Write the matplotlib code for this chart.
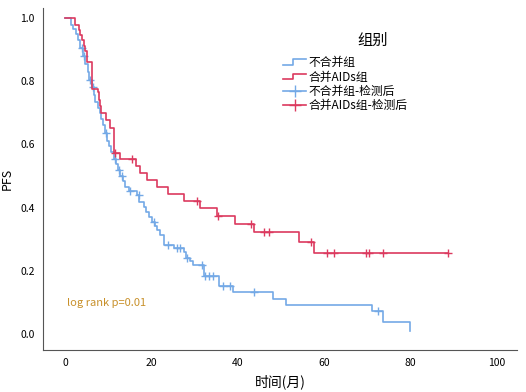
import numpy as np
import matplotlib.pyplot as plt
from matplotlib.lines import Line2D
from matplotlib.legend_handler import HandlerBase

plt.rcParams['font.family'] = ['Noto Sans CJK SC', 'DejaVu Sans']

# 不合并组: event times (months) and survival after each event
blue_t = [1.4, 1.9, 2.5, 3.0, 3.5, 4.1, 4.7, 5.2, 5.6, 6.1, 6.6, 7.0, 7.5, 8.0,
          8.4, 8.8, 9.2, 9.7, 10.2, 10.7, 11.2, 11.8, 12.3, 12.8, 13.3, 13.8,
          14.8, 16.6, 17.2, 18.2, 18.8, 19.3, 20.0, 20.7, 21.2, 22.0, 22.8,
          25.3, 27.4, 28.0, 28.8, 29.7, 32.2, 35.7, 38.8, 48.2, 51.2, 71.1,
          73.5, 79.9]
blue_s = [0.978, 0.964, 0.95, 0.93, 0.905, 0.88, 0.855, 0.83, 0.805, 0.78,
          0.755, 0.735, 0.715, 0.698, 0.68, 0.66, 0.635, 0.612, 0.595, 0.575,
          0.555, 0.538, 0.52, 0.5, 0.485, 0.466, 0.452, 0.44, 0.419, 0.403,
          0.387, 0.371, 0.355, 0.343, 0.329, 0.313, 0.283, 0.271, 0.258, 0.24,
          0.23, 0.217, 0.182, 0.152, 0.134, 0.112, 0.091, 0.074, 0.039, 0.01]
blue_cens = [3.8, 4.4, 5.8, 6.4, 9.4, 11.6, 12.5, 13.1, 14.9, 17.0, 20.5, 23.9,
             25.9, 26.6, 28.2, 31.6, 32.4, 33.3, 34.3, 36.5, 38.2, 43.7, 72.4]

# 合并AIDs组
red_t = [2.3, 3.1, 3.5, 3.9, 4.3, 4.6, 5.0, 6.3, 7.6, 7.9, 8.1, 8.3, 9.4,
         10.4, 11.2, 12.7, 16.4, 17.4, 18.9, 21.3, 23.7, 27.5, 31.3, 35.1,
         39.4, 43.6, 54.2, 57.5]
red_s = [0.978, 0.962, 0.945, 0.93, 0.91, 0.895, 0.86, 0.775, 0.765, 0.74,
         0.72, 0.698, 0.677, 0.651, 0.573, 0.553, 0.532, 0.51, 0.487, 0.464,
         0.444, 0.421, 0.398, 0.374, 0.348, 0.323, 0.292, 0.256]
red_cens = [11.5, 15.4, 30.5, 35.4, 42.9, 46.1, 47.1, 57.0, 60.7, 62.3, 69.7,
            70.4, 73.6, 88.7]

blue = '#74a9e6'
red = '#dc3a5f'


def surv_at(times, surv, t):
    idx = np.searchsorted(times, t, side='right') - 1
    return 1.0 if idx < 0 else surv[idx]


class StepHandler(HandlerBase):
    def create_artists(self, legend, orig_handle, xd, yd, w, h, fontsize, trans):
        x = [xd, xd + w * 0.45, xd + w * 0.45, xd + w]
        y = [yd + h * 0.15, yd + h * 0.15, yd + h * 0.8, yd + h * 0.8]
        ln = Line2D(x, y, color=orig_handle.get_color(), lw=1.2, transform=trans)
        return [ln]


fig = plt.figure(figsize=(5.26, 3.92), dpi=100)
ax = fig.add_axes([0.082, 0.107, 0.901, 0.873])

for times, surv, cens, col in [(blue_t, blue_s, blue_cens, blue),
                               (red_t, red_s, red_cens, red)]:
    end = max(times[-1], max(cens))
    xs = [0] + times + [end]
    ys = [1.0] + surv + [surv[-1]]
    ax.step(xs, ys, where='post', color=col, lw=1.2)
    cy = [surv_at(times, surv, c) for c in cens]
    ax.plot(cens, cy, '+', color=col, ms=5.5, mew=1.0)

ax.text(0.5, 0.09, 'log rank p=0.01', color='#c8902a', fontsize=8)

ax.set_xlim(-5.1, 104.6)
ax.set_ylim(-0.051, 1.032)
ax.set_xticks([0, 20, 40, 60, 80, 100])
ax.set_yticks([0.0, 0.2, 0.4, 0.6, 0.8, 1.0])
ax.yaxis.set_major_formatter(plt.FormatStrFormatter('%.1f'))
ax.tick_params(length=0, labelsize=7.5, pad=6)
for s in ['top', 'right']:
    ax.spines[s].set_visible(False)
for s in ['left', 'bottom']:
    ax.spines[s].set_color('#555555')
ax.set_xlabel('时间(月)', fontsize=10, labelpad=4)
ax.set_ylabel('PFS', fontsize=9)
ax.yaxis.set_label_coords(-0.061, 0.5)

h1 = Line2D([], [], color=blue)
h2 = Line2D([], [], color=red)
h3 = Line2D([], [], color=blue, marker='+', ms=9, lw=1.2)
h4 = Line2D([], [], color=red, marker='+', ms=9, lw=1.2)
leg = fig.legend([h1, h2, h3, h4],
                 ['不合并组', '合并AIDs组', '不合并组-检测后', '合并AIDs组-检测后'],
                 handler_map={h1: StepHandler(), h2: StepHandler()},
                 loc='upper left', bbox_to_anchor=(0.522, 0.878), frameon=False,
                 fontsize=8.5, handlelength=2.0, handletextpad=0.2,
                 labelspacing=0.12, borderpad=0.2)
fig.text(373 / 526, 1 - 40 / 392, '组别', fontsize=11, ha='center', va='center')

fig.savefig('out.png', dpi=100)
